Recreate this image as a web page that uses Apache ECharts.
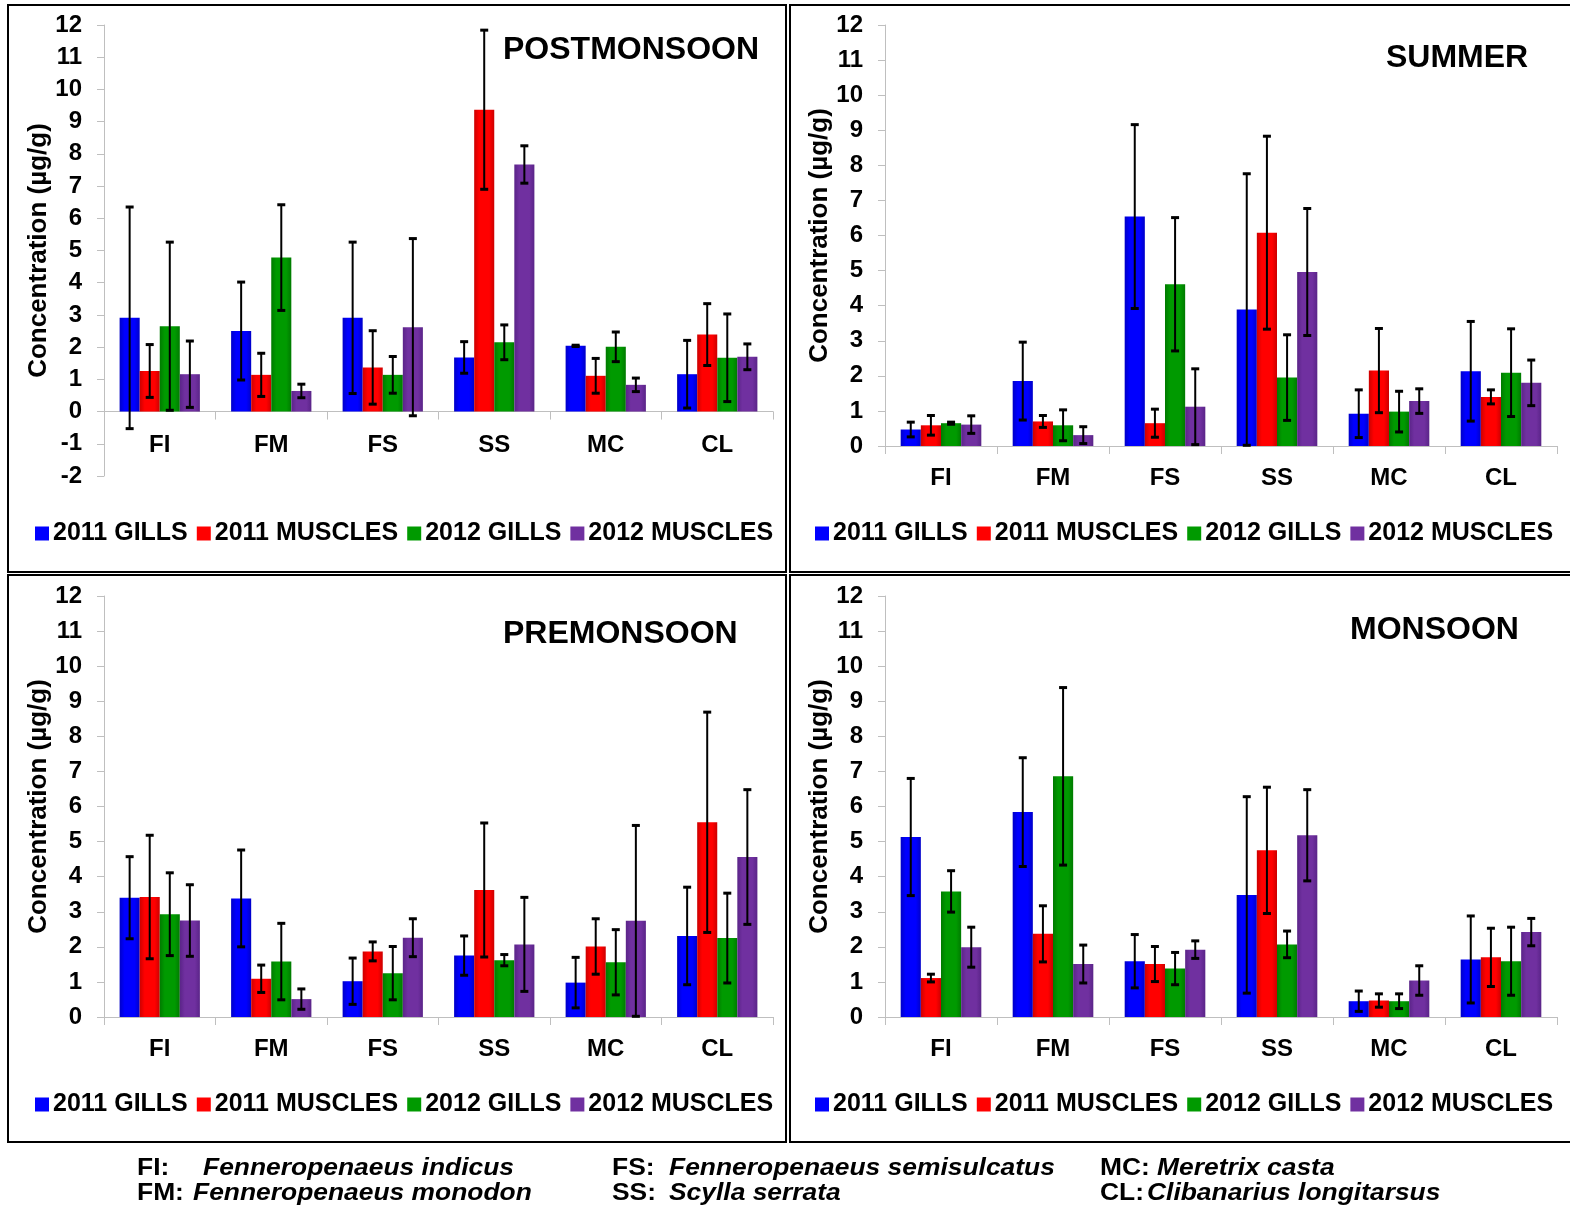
<!DOCTYPE html>
<html>
<head>
<meta charset="utf-8">
<script src="https://cdn.jsdelivr.net/npm/echarts@6/dist/echarts.min.js"></script>
<style>html,body{margin:0;padding:0;background:#fff;}#c{width:1570px;height:1215px;}</style>
</head>
<body>
<div id="c"></div>
<script>
const categories = ['FI', 'FM', 'FS', 'SS', 'MC', 'CL'];
const seriesNames = ['2011 GILLS', '2011 MUSCLES', '2012 GILLS', '2012 MUSCLES'];

// POSTMONSOON
const post2011Gills = [2.91, 2.50, 2.91, 1.68, 2.04, 1.16];
const post2011GillsSD = [3.44, 1.52, 2.35, 0.49, 0.02, 1.05];
const post2011Muscles = [1.26, 1.14, 1.37, 9.37, 1.11, 2.39];
const post2011MusclesSD = [0.82, 0.67, 1.14, 2.47, 0.54, 0.96];
const post2012Gills = [2.65, 4.78, 1.14, 2.15, 2.01, 1.67];
const post2012GillsSD = [2.61, 1.64, 0.57, 0.54, 0.46, 1.36];
const post2012Muscles = [1.16, 0.64, 2.62, 7.67, 0.83, 1.70];
const post2012MusclesSD = [1.03, 0.21, 2.75, 0.58, 0.21, 0.40];

// SUMMER
const sum2011Gills = [0.47, 1.85, 6.54, 3.89, 0.92, 2.13];
const sum2011GillsSD = [0.21, 1.11, 2.62, 3.87, 0.68, 1.42];
const sum2011Muscles = [0.59, 0.70, 0.65, 6.08, 2.15, 1.40];
const sum2011MusclesSD = [0.28, 0.17, 0.40, 2.75, 1.20, 0.20];
const sum2012Gills = [0.65, 0.59, 4.61, 1.95, 0.98, 2.09];
const sum2012GillsSD = [0.03, 0.44, 1.90, 1.22, 0.58, 1.25];
const sum2012Muscles = [0.61, 0.31, 1.12, 4.96, 1.28, 1.80];
const sum2012MusclesSD = [0.25, 0.24, 1.08, 1.81, 0.35, 0.65];

// PREMONSOON
const pre2011Gills = [3.40, 3.38, 1.02, 1.75, 0.98, 2.31];
const pre2011GillsSD = [1.17, 1.38, 0.66, 0.56, 0.72, 1.39];
const pre2011Muscles = [3.42, 1.09, 1.87, 3.62, 2.01, 5.55];
const pre2011MusclesSD = [1.76, 0.39, 0.27, 1.91, 0.79, 3.14];
const pre2012Gills = [2.93, 1.58, 1.25, 1.62, 1.56, 2.25];
const pre2012GillsSD = [1.18, 1.09, 0.76, 0.16, 0.93, 1.28];
const pre2012Muscles = [2.75, 0.51, 2.26, 2.07, 2.74, 4.56];
const pre2012MusclesSD = [1.02, 0.29, 0.54, 1.34, 2.72, 1.92];

// MONSOON
const mon2011Gills = [5.13, 5.84, 1.59, 3.48, 0.45, 1.64];
const mon2011GillsSD = [1.67, 1.55, 0.76, 2.80, 0.29, 1.24];
const mon2011Muscles = [1.11, 2.37, 1.51, 4.75, 0.47, 1.70];
const mon2011MusclesSD = [0.11, 0.80, 0.50, 1.80, 0.19, 0.83];
const mon2012Gills = [3.58, 6.86, 1.38, 2.07, 0.45, 1.59];
const mon2012GillsSD = [0.59, 2.53, 0.46, 0.38, 0.21, 0.97];
const mon2012Muscles = [1.99, 1.51, 1.92, 5.18, 1.04, 2.42];
const mon2012MusclesSD = [0.57, 0.54, 0.25, 1.30, 0.42, 0.39];

const panels = [
  { title: 'POSTMONSOON', means: [post2011Gills, post2011Muscles, post2012Gills, post2012Muscles],
    sds: [post2011GillsSD, post2011MusclesSD, post2012GillsSD, post2012MusclesSD],
    grid: { left: 104, top: 25, width: 669, height: 451 }, yMin: -2, labelMargin: -43,
    titleX: 503, titleY: 50, legendX: 30, legendY: 516 },
  { title: 'SUMMER', means: [sum2011Gills, sum2011Muscles, sum2012Gills, sum2012Muscles],
    sds: [sum2011GillsSD, sum2011MusclesSD, sum2012GillsSD, sum2012MusclesSD],
    grid: { left: 885, top: 25, width: 672, height: 421 }, yMin: 0, labelMargin: 20,
    titleX: 1386, titleY: 58, legendX: 810, legendY: 516 },
  { title: 'PREMONSOON', means: [pre2011Gills, pre2011Muscles, pre2012Gills, pre2012Muscles],
    sds: [pre2011GillsSD, pre2011MusclesSD, pre2012GillsSD, pre2012MusclesSD],
    grid: { left: 104, top: 596, width: 669, height: 421 }, yMin: 0, labelMargin: 20,
    titleX: 503, titleY: 634, legendX: 30, legendY: 1087 },
  { title: 'MONSOON', means: [mon2011Gills, mon2011Muscles, mon2012Gills, mon2012Muscles],
    sds: [mon2011GillsSD, mon2011MusclesSD, mon2012GillsSD, mon2012MusclesSD],
    grid: { left: 885, top: 596, width: 672, height: 421 }, yMin: 0, labelMargin: 20,
    titleX: 1350, titleY: 630, legendX: 810, legendY: 1087 }
];

const baseColors = ['#0000FF', '#FF0000', '#009A00', '#7030A0'];
const edgeColors = ['#0000C8', '#CC0000', '#007A00', '#5A2488'];
const GROUP = 0.72;

function barColor(k) {
  return new echarts.graphic.LinearGradient(0, 0, 1, 0, [
    { offset: 0, color: edgeColors[k] },
    { offset: 0.25, color: baseColors[k] },
    { offset: 0.75, color: baseColors[k] },
    { offset: 1, color: edgeColors[k] }
  ]);
}

function makeErr(k) {
  return function (params, api) {
    const xi = api.value(0), v = api.value(1), e = api.value(2);
    const band = api.size([1, 0])[0];
    const bw = band * GROUP / 4;
    const cx = api.coord([xi, v])[0] + (k - 1.5) * bw;
    const yT = api.coord([xi, v + e])[1];
    const yB = api.coord([xi, v - e])[1];
    const cap = 4;
    return {
      type: 'group',
      children: [
        { type: 'line', shape: { x1: cx, y1: yT, x2: cx, y2: yB }, style: { stroke: '#000', lineWidth: 2 } },
        { type: 'line', shape: { x1: cx - cap, y1: yT, x2: cx + cap, y2: yT }, style: { stroke: '#000', lineWidth: 3 } },
        { type: 'line', shape: { x1: cx - cap, y1: yB, x2: cx + cap, y2: yB }, style: { stroke: '#000', lineWidth: 3 } }
      ]
    };
  };
}

const FONT = 'Arial, "Liberation Sans", sans-serif';
const grids = [], xAxes = [], yAxes = [], series = [], legends = [], graphics = [];

panels.forEach((p, g) => {
  grids.push(Object.assign({ containLabel: false }, p.grid));
  xAxes.push({
    type: 'category', gridIndex: g, data: categories,
    axisLine: { onZero: true, lineStyle: { color: '#BFBFBF', width: 1 } },
    axisTick: { show: true, length: 8, interval: 0, lineStyle: { color: '#BFBFBF' } },
    axisLabel: { margin: p.labelMargin, color: '#000', fontWeight: 'bold', fontSize: 24, fontFamily: FONT, interval: 0 },
    splitLine: { show: false }
  });
  yAxes.push({
    type: 'value', gridIndex: g, min: p.yMin, max: 12, interval: 1,
    name: 'Concentration (µg/g)', nameLocation: 'middle', nameGap: 42,
    nameTextStyle: { color: '#000', fontWeight: 'bold', fontSize: 26, fontFamily: FONT },
    axisLine: { show: true, lineStyle: { color: '#BFBFBF', width: 1 } },
    axisTick: { show: true, length: 7, lineStyle: { color: '#BFBFBF' } },
    axisLabel: { margin: 22, color: '#000', fontWeight: 'bold', fontSize: 24, fontFamily: FONT },
    splitLine: { show: false }
  });
  p.means.forEach((arr, k) => {
    series.push({
      type: 'bar', name: seriesNames[k], xAxisIndex: g, yAxisIndex: g,
      data: arr, barGap: '0%', barCategoryGap: (100 - GROUP * 100) + '%',
      itemStyle: { color: barColor(k) }, z: 2, animation: false
    });
  });
  p.means.forEach((arr, k) => {
    series.push({
      type: 'custom', name: 'err' + g + '_' + k, xAxisIndex: g, yAxisIndex: g,
      renderItem: makeErr(k), encode: { x: 0, y: 1 },
      data: categories.map((c, i) => [i, arr[i], p.sds[k][i]]),
      z: 5, animation: false, silent: true
    });
  });
  legends.push({
    data: seriesNames.map((n, k) => ({ name: n, itemStyle: { color: baseColors[k] } })),
    left: p.legendX, top: p.legendY, orient: 'horizontal',
    icon: 'rect', itemWidth: 14, itemHeight: 14, itemGap: 9,
    textStyle: { color: '#000', fontWeight: 'bold', fontSize: 25, fontFamily: FONT, padding: [0, 0, 0, -1] }
  });
  graphics.push({
    type: 'text', x: p.titleX, y: p.titleY,
    style: { text: p.title, font: 'bold 32px ' + FONT, fill: '#000', verticalAlign: 'middle', align: 'left' }
  });
});

// panel frames
[[8, 5, 778, 567], [790, 5, 781, 567], [8, 575, 778, 567], [790, 575, 781, 567]].forEach(r => {
  graphics.push({ type: 'rect', shape: { x: r[0], y: r[1], width: r[2], height: r[3] },
    style: { fill: 'none', stroke: '#000', lineWidth: 2 }, z: 0 });
});

// footnote
const footLabels = [
  ['FI:', 'Fenneropenaeus indicus', 137, 203, 1168],
  ['FM:', 'Fenneropenaeus monodon', 137, 193, 1193],
  ['FS:', 'Fenneropenaeus semisulcatus', 612, 669, 1168],
  ['SS:', 'Scylla serrata', 612, 669, 1193],
  ['MC:', 'Meretrix casta', 1100, 1157, 1168],
  ['CL:', 'Clibanarius longitarsus', 1100, 1147, 1193]
];
footLabels.forEach(f => {
  graphics.push({ type: 'text', x: f[2], y: f[4], scaleX: 1.1,
    style: { text: f[0], font: 'bold 24px ' + FONT, fill: '#000', verticalAlign: 'middle' } });
  graphics.push({ type: 'text', x: f[3], y: f[4], scaleX: 1.1,
    style: { text: f[1], font: 'italic bold 24px ' + FONT, fill: '#000', verticalAlign: 'middle' } });
});

const chart = echarts.init(document.getElementById('c'), null, { renderer: 'canvas' });
chart.setOption({
  backgroundColor: '#fff',
  animation: false,
  grid: grids, xAxis: xAxes, yAxis: yAxes, series: series, legend: legends,
  graphic: graphics
});
</script>
</body>
</html>
